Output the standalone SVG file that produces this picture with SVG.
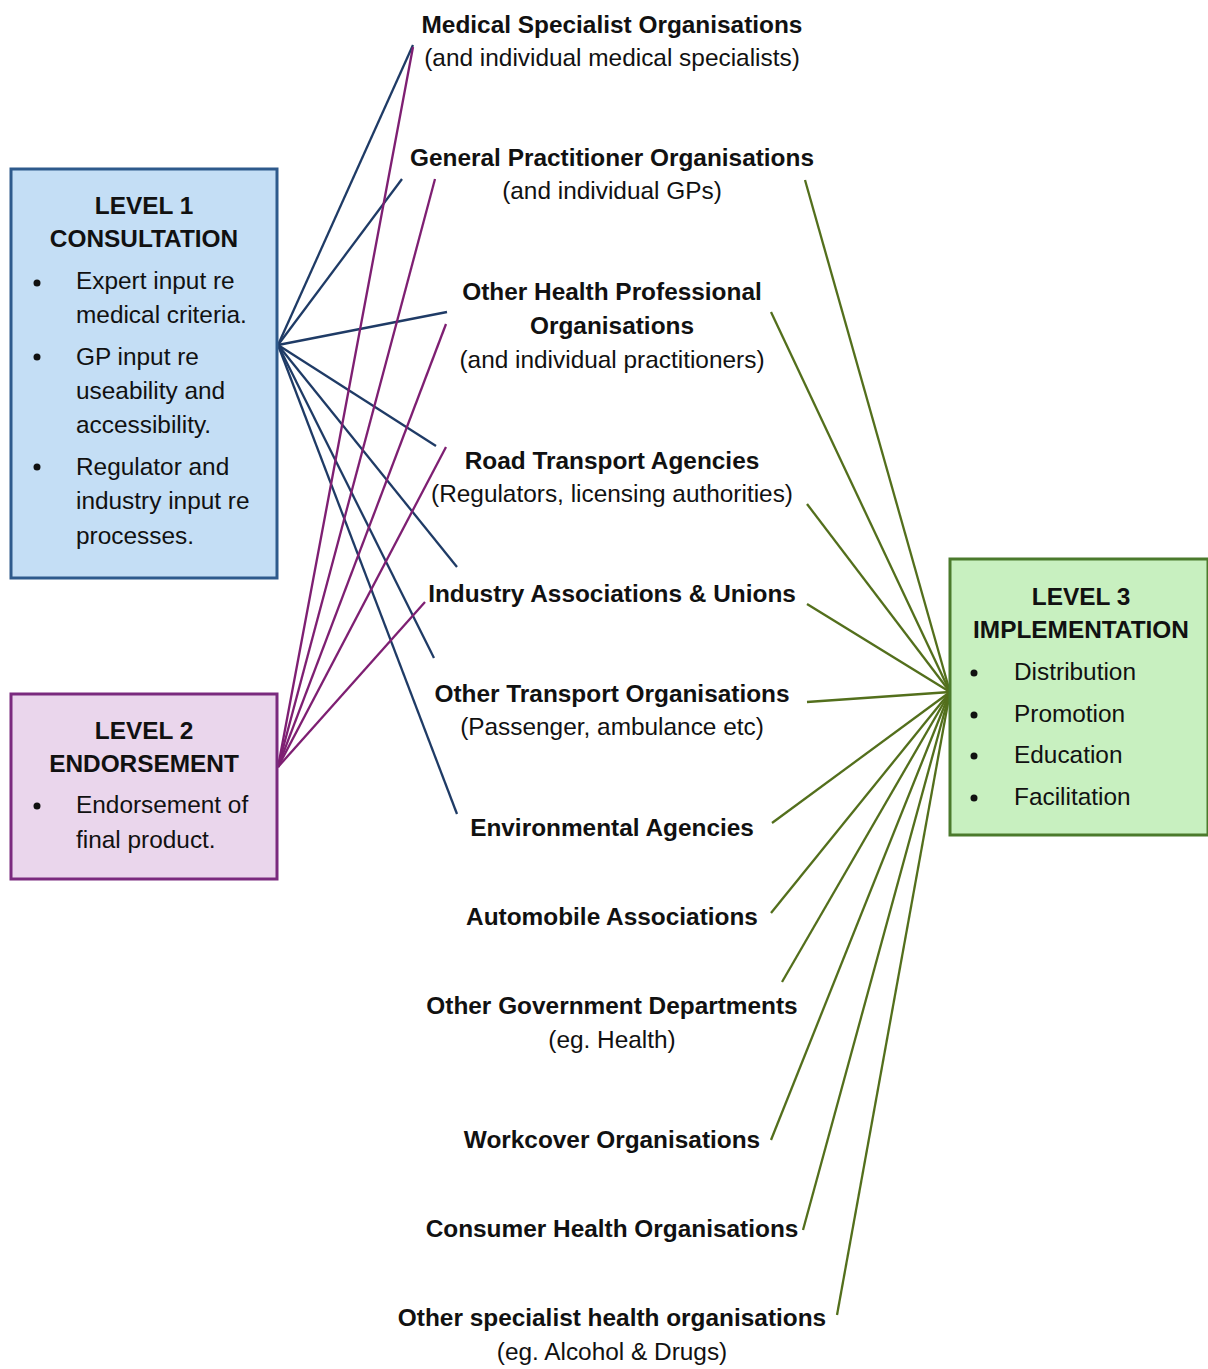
<svg xmlns="http://www.w3.org/2000/svg" width="1208" height="1369" viewBox="0 0 1208 1369">
<style>
text{font-family:"Liberation Sans",Arial,sans-serif;font-size:24.4px;fill:#111}
.b{font-weight:bold}
.c{text-anchor:middle}
.blue{stroke:#1f3b66;stroke-width:2.3;fill:none}
.purp{stroke:#7e1f72;stroke-width:2.3;fill:none}
.grn{stroke:#536f1c;stroke-width:2.3;fill:none}
.dot{fill:#111}
</style>
<rect width="1208" height="1369" fill="#ffffff"/>
<g id="connectors">
<g class="blue">
<line x1="278" y1="345" x2="413" y2="45"/>
<line x1="278" y1="345" x2="402" y2="179"/>
<line x1="278" y1="345" x2="447" y2="312"/>
<line x1="278" y1="345" x2="436" y2="446"/>
<line x1="278" y1="345" x2="457" y2="567"/>
<line x1="278" y1="345" x2="434" y2="658"/>
<line x1="278" y1="345" x2="457" y2="814"/>
</g>
<g class="purp">
<line x1="278" y1="767" x2="413" y2="47"/>
<line x1="278" y1="767" x2="435" y2="179"/>
<line x1="278" y1="767" x2="446" y2="324"/>
<line x1="278" y1="767" x2="446" y2="447"/>
<line x1="278" y1="767" x2="425" y2="602"/>
</g>
<g class="grn">
<line x1="950" y1="692" x2="805" y2="180"/>
<line x1="950" y1="692" x2="771" y2="312"/>
<line x1="950" y1="692" x2="807" y2="504"/>
<line x1="950" y1="692" x2="807" y2="604"/>
<line x1="950" y1="692" x2="807" y2="702"/>
<line x1="950" y1="692" x2="772" y2="823"/>
<line x1="950" y1="692" x2="771" y2="913"/>
<line x1="950" y1="692" x2="782" y2="982"/>
<line x1="950" y1="692" x2="771" y2="1140"/>
<line x1="950" y1="692" x2="803" y2="1230"/>
<line x1="950" y1="692" x2="837" y2="1315"/>
</g>
</g>
<g id="level1">
<rect x="11" y="169" width="266" height="409" fill="#c4def5" stroke="#2e5a8c" stroke-width="3"/>
<text class="b c" x="144" y="214">LEVEL 1</text>
<text class="b c" x="144" y="247">CONSULTATION</text>
<circle class="dot" cx="37" cy="283" r="3.5"/>
<circle class="dot" cx="37" cy="357" r="3.5"/>
<circle class="dot" cx="37" cy="467" r="3.5"/>
<text x="76" y="289">Expert input re</text>
<text x="76" y="323">medical criteria.</text>
<text x="76" y="365">GP input re</text>
<text x="76" y="399">useability and</text>
<text x="76" y="433">accessibility.</text>
<text x="76" y="475">Regulator and</text>
<text x="76" y="509">industry input re</text>
<text x="76" y="544">processes.</text>
</g>
<g id="level2">
<rect x="11" y="694" width="266" height="185" fill="#ead6ec" stroke="#7a2a7e" stroke-width="3"/>
<text class="b c" x="144" y="739">LEVEL 2</text>
<text class="b c" x="144" y="772">ENDORSEMENT</text>
<circle class="dot" cx="37" cy="806" r="3.5"/>
<text x="76" y="813">Endorsement of</text>
<text x="76" y="848">final product.</text>
</g>
<g id="level3">
<rect x="950" y="559" width="258" height="276" fill="#c8f0c0" stroke="#4b7a2c" stroke-width="3"/>
<text class="b c" x="1081" y="605">LEVEL 3</text>
<text class="b c" x="1081" y="638">IMPLEMENTATION</text>
<circle class="dot" cx="974" cy="673" r="3.5"/>
<circle class="dot" cx="974" cy="715" r="3.5"/>
<circle class="dot" cx="974" cy="756" r="3.5"/>
<circle class="dot" cx="974" cy="798" r="3.5"/>
<text x="1014" y="680">Distribution</text>
<text x="1014" y="722">Promotion</text>
<text x="1014" y="763">Education</text>
<text x="1014" y="805">Facilitation</text>
</g>
<g id="medical-specialist">
<text class="b c" x="612" y="33">Medical Specialist Organisations</text>
<text class="c" x="612" y="66">(and individual medical specialists)</text>
</g>
<g id="gp">
<text class="b c" x="612" y="166">General Practitioner Organisations</text>
<text class="c" x="612" y="199">(and individual GPs)</text>
</g>
<g id="other-health">
<text class="b c" x="612" y="300">Other Health Professional</text>
<text class="b c" x="612" y="334">Organisations</text>
<text class="c" x="612" y="368">(and individual practitioners)</text>
</g>
<g id="road-transport">
<text class="b c" x="612" y="469">Road Transport Agencies</text>
<text class="c" x="612" y="502">(Regulators, licensing authorities)</text>
</g>
<g id="industry">
<text class="b c" x="612" y="602">Industry Associations &amp; Unions</text>
</g>
<g id="other-transport">
<text class="b c" x="612" y="702">Other Transport Organisations</text>
<text class="c" x="612" y="735">(Passenger, ambulance etc)</text>
</g>
<g id="environmental">
<text class="b c" x="612" y="836">Environmental Agencies</text>
</g>
<g id="automobile">
<text class="b c" x="612" y="925">Automobile Associations</text>
</g>
<g id="government">
<text class="b c" x="612" y="1014">Other Government Departments</text>
<text class="c" x="612" y="1048">(eg. Health)</text>
</g>
<g id="workcover">
<text class="b c" x="612" y="1148">Workcover Organisations</text>
</g>
<g id="consumer-health">
<text class="b c" x="612" y="1237">Consumer Health Organisations</text>
</g>
<g id="other-specialist">
<text class="b c" x="612" y="1326">Other specialist health organisations</text>
<text class="c" x="612" y="1360">(eg. Alcohol &amp; Drugs)</text>
</g>
</svg>
